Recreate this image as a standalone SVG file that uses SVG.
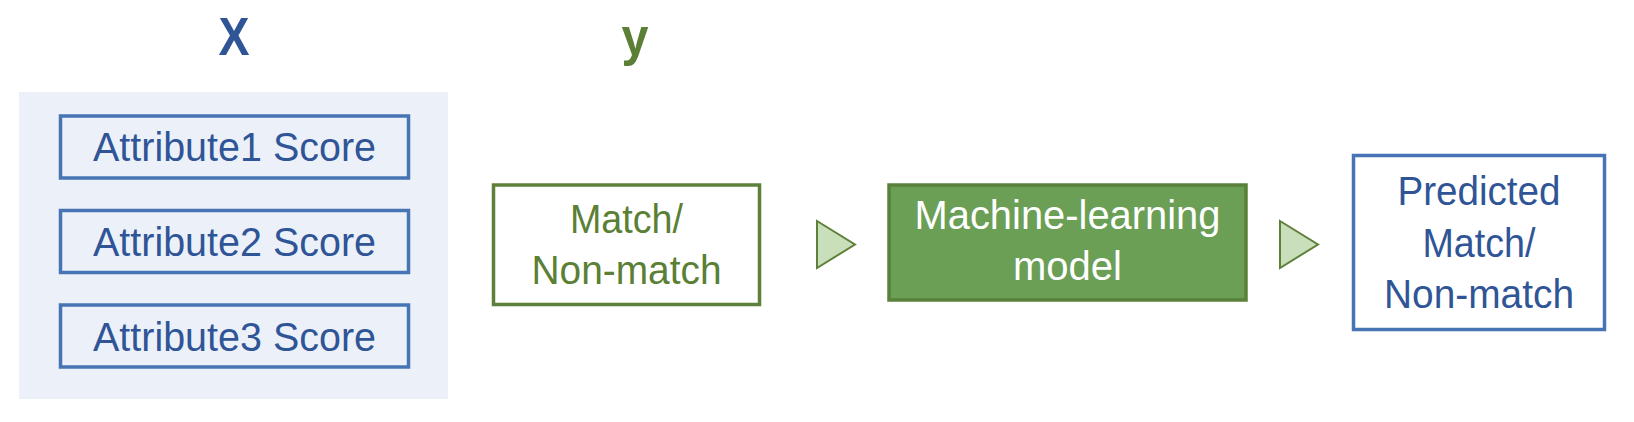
<svg xmlns="http://www.w3.org/2000/svg" width="1634" height="422" viewBox="0 0 1634 422">
  <style>
    text { font-family: "Liberation Sans", Arial, sans-serif; text-anchor: middle; }
    .blue { fill: #2F5597; }
    .green { fill: #5A7F35; }
    .white { fill: #FFFFFF; }
    .lbl { font-size: 40px; }
    .head { font-size: 53px; font-weight: bold; }
    .bbox { fill: none; stroke: #4674B5; stroke-width: 3.5; }
    .gbox { fill: #FFFFFF; stroke: #5E813A; stroke-width: 3.5; }
    .arrow { fill: #C9DFBB; stroke: #5E813A; stroke-width: 2; stroke-linejoin: miter; }
  </style>
  <rect width="1634" height="422" fill="#FFFFFF"/>
  <g id="label-x">
    <text class="head blue" x="234" y="55" textLength="31" lengthAdjust="spacingAndGlyphs">X</text>
  </g>
  <g id="label-y">
    <text class="head green" x="635" y="55" textLength="27" lengthAdjust="spacingAndGlyphs">y</text>
  </g>
  <g id="features">
    <rect x="19" y="92" width="429" height="307" fill="#ECF1F9"/>
    <g id="attr1">
      <rect class="bbox" x="60.5" y="116" width="348" height="62"/>
      <text class="lbl blue" x="234.5" y="161" textLength="283" lengthAdjust="spacingAndGlyphs">Attribute1 Score</text>
    </g>
    <g id="attr2">
      <rect class="bbox" x="60.5" y="210.5" width="348" height="62"/>
      <text class="lbl blue" x="234.5" y="256" textLength="283" lengthAdjust="spacingAndGlyphs">Attribute2 Score</text>
    </g>
    <g id="attr3">
      <rect class="bbox" x="60.5" y="305" width="348" height="62"/>
      <text class="lbl blue" x="234.5" y="351" textLength="283" lengthAdjust="spacingAndGlyphs">Attribute3 Score</text>
    </g>
  </g>
  <g id="target">
    <rect class="gbox" x="493.5" y="185" width="266" height="119.5"/>
    <text class="lbl green" x="626.5" y="233" textLength="113" lengthAdjust="spacingAndGlyphs">Match/</text>
    <text class="lbl green" x="626.5" y="284" textLength="190" lengthAdjust="spacingAndGlyphs">Non-match</text>
  </g>
  <g id="model">
    <rect x="889" y="185" width="357" height="115" fill="#6A9F55" stroke="#5A8139" stroke-width="3.5"/>
    <text class="lbl white" x="1067.5" y="229" textLength="306" lengthAdjust="spacingAndGlyphs">Machine-learning</text>
    <text class="lbl white" x="1067.5" y="280">model</text>
  </g>
  <g id="prediction">
    <rect class="bbox" x="1353.5" y="155.5" width="251" height="174"/>
    <text class="lbl blue" x="1479" y="205" textLength="163" lengthAdjust="spacingAndGlyphs">Predicted</text>
    <text class="lbl blue" x="1479" y="257" textLength="113" lengthAdjust="spacingAndGlyphs">Match/</text>
    <text class="lbl blue" x="1479" y="308" textLength="190" lengthAdjust="spacingAndGlyphs">Non-match</text>
  </g>
  <g id="connectors">
    <polygon class="arrow" points="817,221 855,244.5 817,268"/>
    <polygon class="arrow" points="1280,221 1318,244.5 1280,268"/>
  </g>
</svg>
